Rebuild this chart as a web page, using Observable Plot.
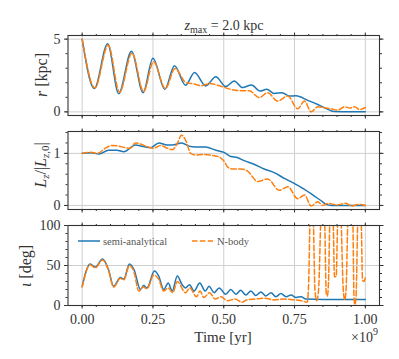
<!DOCTYPE html>
<html><head><meta charset="utf-8">
<script src="https://cdn.jsdelivr.net/npm/d3@7"></script>
<script src="https://cdn.jsdelivr.net/npm/@observablehq/plot@0.6"></script>
<style>
body{margin:0;background:#fff;}
#wrap{position:relative;width:399px;height:359px;font-family:"Liberation Serif",serif;}
#wrap svg.plot{display:block}
#ov{position:absolute;left:0;top:0;pointer-events:none}
</style></head><body><div id="wrap"></div>
<script>
// ---- data (time in units of 1e9 yr) ----
const rSemiT  = [0,0.043,0.090,0.129,0.174,0.215,0.250,0.292,0.326,0.365,0.397,0.436,0.472,0.507,0.537,0.566,0.598,0.628,0.652,0.678,0.706,0.732,0.755,0.797,0.832,0.868,0.891,0.95,1.0];
const rSemiV  = [5.0,1.6,4.68,1.25,4.17,1.32,3.68,1.55,3.17,1.83,2.71,1.78,2.41,1.74,2.13,1.67,1.85,1.43,1.55,1.27,1.32,1.09,1.10,0.79,0.51,0.17,0.02,0.0,0.0];
const rNbodyT = [0,0.045,0.092,0.132,0.176,0.217,0.252,0.294,0.328,0.367,0.395,0.42,0.45,0.49,0.525,0.56,0.59,0.625,0.655,0.69,0.726,0.761,0.785,0.809,0.832,0.856,0.879,0.903,0.927,0.944,0.962,0.98,1.0];
const rNbodyV = [5.0,1.65,4.6,1.35,4.05,1.4,3.45,1.6,2.98,2.0,1.92,1.8,1.95,1.76,1.55,1.46,1.46,0.97,1.32,0.74,1.09,0.21,0.74,0.0,0.35,0.28,0.21,0.12,0.35,0.26,0.35,0.16,0.3];

const lzSemiT  = [0,0.028,0.06,0.093,0.123,0.147,0.188,0.217,0.241,0.271,0.30,0.318,0.351,0.383,0.412,0.436,0.472,0.501,0.525,0.548,0.572,0.607,0.643,0.678,0.714,0.75,0.785,0.82,0.844,0.862,0.88,1.0];
const lzSemiV  = [1.0,1.01,0.99,1.06,1.06,1.03,1.16,1.13,1.11,1.2,1.16,1.16,1.2,1.13,1.12,1.12,1.06,1.02,0.94,0.92,0.86,0.79,0.7,0.63,0.52,0.42,0.31,0.18,0.09,0.02,0.0,0.0];
const lzNbodyT = [0,0.03,0.055,0.082,0.105,0.129,0.152,0.17,0.188,0.206,0.229,0.253,0.277,0.30,0.318,0.336,0.351,0.368,0.383,0.40,0.43,0.46,0.484,0.505,0.513,0.531,0.56,0.584,0.62,0.655,0.696,0.726,0.761,0.785,0.809,0.832,0.85,0.868,0.9,0.93,0.952,0.975,1.0];
const lzNbodyV = [1.0,1.02,1.0,1.1,1.15,1.14,1.11,1.1,1.2,1.18,1.13,1.1,1.15,1.1,1.07,1.19,1.35,1.22,1.0,0.97,0.98,0.96,0.93,0.82,0.74,0.7,0.7,0.66,0.46,0.51,0.29,0.36,0.13,0.2,-0.01,0.07,0.0,0.04,0.01,0.04,-0.01,0.02,0.0];

const incSemiT  = [0,0.028,0.046,0.072,0.093,0.111,0.135,0.147,0.167,0.183,0.206,0.217,0.229,0.255,0.27,0.288,0.304,0.318,0.336,0.353,0.365,0.379,0.395,0.415,0.435,0.448,0.466,0.484,0.507,0.525,0.543,0.56,0.578,0.596,0.613,0.631,0.649,0.667,0.684,0.702,0.72,0.738,0.755,0.773,0.79,0.85,1.0];
const incSemiV  = [24,52,48,58,45,24,35,33,52,45,20,25,22,43,37,20,28,18,37,26,22,26,18,28,18,24,16,22,14,20,14,19,13,18,12.5,17,12,16,11,15,11,13,10,11,8,7.5,7.5];
const incNbodyT = [0,0.028,0.046,0.072,0.093,0.111,0.135,0.147,0.167,0.183,0.2,0.215,0.229,0.253,0.27,0.288,0.304,0.32,0.336,0.365,0.38,0.404,0.416,0.43,0.45,0.47,0.49,0.513,0.54,0.565,0.58,0.61,0.643,0.678,0.714,0.75,0.773,0.795,0.80,0.806,0.815,0.822,0.828,0.835,0.845,0.855,0.862,0.866,0.87,0.876,0.886,0.891,0.897,0.903,0.912,0.922,0.927,0.932,0.94,0.955,0.96,0.963,0.967,0.975,0.985,0.99,0.995,1.0];
const incNbodyV = [23,51,47,57,44,23,34,32,50,42,18,23,21,38,33,18,22,16,30,16,22,11,18,10,16,8,11,6,8,4,7,8,9,7,8,7,6,4,30,120,120,20,6,20,120,120,15,12,30,120,110,36,36,110,120,20,7,20,120,120,10,1,10,120,110,32,30,35];

// ---- ticks ----
const xMajor = [0,0.25,0.5,0.75,1.0];
const xMajorLabels = ["0.00","0.25","0.50","0.75","1.00"];
const xMinor = [0,0.05,0.1,0.15,0.2,0.25,0.3,0.35,0.4,0.45,0.5,0.55,0.6,0.65,0.7,0.75,0.8,0.85,0.9,0.95,1.0];
const rMajor = [0,5], rMajorLabels = ["0","5"], rMinor = [0,1,2,3,4,5];
const lzMajor = [0,1], lzMajorLabels = ["0","1"], lzMinor = [0,0.2,0.4,0.6,0.8,1.0,1.2,1.4];
const incMajor = [0,50,100], incMajorLabels = ["0","50","100"], incMinor = [0,10,20,30,40,50,60,70,80,90,100];

const series = ["semi-analytical","N-body"];
const colors = ["#1f77b4","#ff7f0e"];

const rows = (T,V) => T.map((t,i) => ({t, v: V[i]}));

function panel({semi, nbody, yDomain, yMajor, yLabels, yMinor, height, mt, mb, showX}) {
  const axc = {stroke:"#333", label:null};
  const marks = [
    Plot.gridX(xMajor, {stroke:"#cfcfcf", strokeOpacity:1, strokeWidth:1}),
    Plot.gridY(yMajor, {stroke:"#cfcfcf", strokeOpacity:1, strokeWidth:1}),
    Plot.line(semi, {x:"t", y:"v", stroke:colors[0], strokeWidth:1.5, curve:"monotone-x", clip:true}),
    Plot.line(nbody, {x:"t", y:"v", stroke:colors[1], strokeWidth:1.5, strokeDasharray:"5.5,2.4", curve:"monotone-x", clip:true}),
    Plot.frame({stroke:"#333", strokeWidth:1.1}),
    Plot.axisX(xMajor, {...axc, anchor:"bottom", tickSize:3.5, tickPadding:5, fill: showX ? "#333" : "none",
      tickFormat: d => xMajorLabels[xMajor.indexOf(d)]}),
    Plot.axisX(xMinor, {...axc, anchor:"bottom", tickSize:2, fill:"none"}),
    Plot.axisX(xMajor, {...axc, anchor:"top", tickSize:3.5, fill:"none"}),
    Plot.axisX(xMinor, {...axc, anchor:"top", tickSize:2, fill:"none"}),
    Plot.axisY(yMajor, {...axc, anchor:"left", tickSize:3.5, tickPadding:4, fill:"#333",
      tickFormat: d => yLabels[yMajor.indexOf(d)]}),
    Plot.axisY(yMinor, {...axc, anchor:"left", tickSize:2, fill:"none"}),
    Plot.axisY(yMajor, {...axc, anchor:"right", tickSize:3.5, fill:"none"}),
    Plot.axisY(yMinor, {...axc, anchor:"right", tickSize:2, fill:"none"})
  ];
  return Plot.plot({
    width:399, height, marginLeft:67.5, marginRight:20, marginTop:mt, marginBottom:mb,
    x:{domain:[-0.05,1.05], label:null}, y:{domain:yDomain, label:null},
    style:{fontFamily:"'Liberation Serif', serif", fontSize:"14px", color:"#333", background:"transparent", overflow:"visible"},
    marks
  });
}

const wrap = document.getElementById("wrap");
wrap.append(panel({semi:rows(rSemiT,rSemiV), nbody:rows(rNbodyT,rNbodyV), yDomain:[-0.25,5.25],
  yMajor:rMajor, yLabels:rMajorLabels, yMinor:rMinor, height:120, mt:35, mb:5, showX:false}));
wrap.append(panel({semi:rows(lzSemiT,lzSemiV), nbody:rows(lzNbodyT,lzNbodyV), yDomain:[-0.078,1.42],
  yMajor:lzMajor, yLabels:lzMajorLabels, yMinor:lzMinor, height:95, mt:11, mb:6, showX:false}));
wrap.append(panel({semi:rows(incSemiT,incSemiV), nbody:rows(incNbodyT,incNbodyV), yDomain:[0,100],
  yMajor:incMajor, yLabels:incMajorLabels, yMinor:incMinor, height:144, mt:10, mb:54, showX:true}));

// ---- overlay texts: title, axis labels, legend ----
const NS = "http://www.w3.org/2000/svg";
const ov = document.createElementNS(NS,"svg");
ov.setAttribute("id","ov"); ov.setAttribute("width",399); ov.setAttribute("height",359);
ov.setAttribute("font-family","'Liberation Serif', serif");
ov.innerHTML = `
<text x="224" y="30" text-anchor="middle" font-size="14" fill="#333"><tspan font-style="italic">z</tspan><tspan font-size="10" dy="3">max</tspan><tspan dy="-3"> = 2.0 kpc</tspan></text>
<text transform="translate(47,75) rotate(-90)" text-anchor="middle" font-size="16" fill="#333"><tspan font-style="italic">r</tspan> [kpc]</text>
<text transform="translate(46,165) rotate(-90)" text-anchor="middle" font-size="16" fill="#333"><tspan font-style="italic">L</tspan><tspan font-style="italic" font-size="11" dy="3">z</tspan><tspan dy="-3">/|</tspan><tspan font-style="italic">L</tspan><tspan font-style="italic" font-size="11" dy="3">z</tspan><tspan font-size="11">,0</tspan><tspan dy="-3">|</tspan></text>
<text transform="translate(31,266) rotate(-90)" text-anchor="middle" font-size="16" fill="#333"><tspan font-style="italic">ι</tspan> [deg]</text>
<text x="223" y="342" text-anchor="middle" font-size="15" fill="#333">Time [yr]</text>
<text x="378" y="342" text-anchor="end" font-size="14" fill="#333">×10<tspan font-size="10" dy="-7">9</tspan></text>
<line x1="78" x2="100" y1="241" y2="241" stroke="${colors[0]}" stroke-width="1.5"/>
<text x="103" y="244.5" font-size="10.5" fill="#555">${series[0]}</text>
<line x1="192" x2="213" y1="241" y2="241" stroke="${colors[1]}" stroke-width="1.5" stroke-dasharray="5.5,2.4"/>
<text x="217" y="244.5" font-size="10.5" fill="#555">${series[1]}</text>`;
wrap.append(ov);
</script></body></html>
